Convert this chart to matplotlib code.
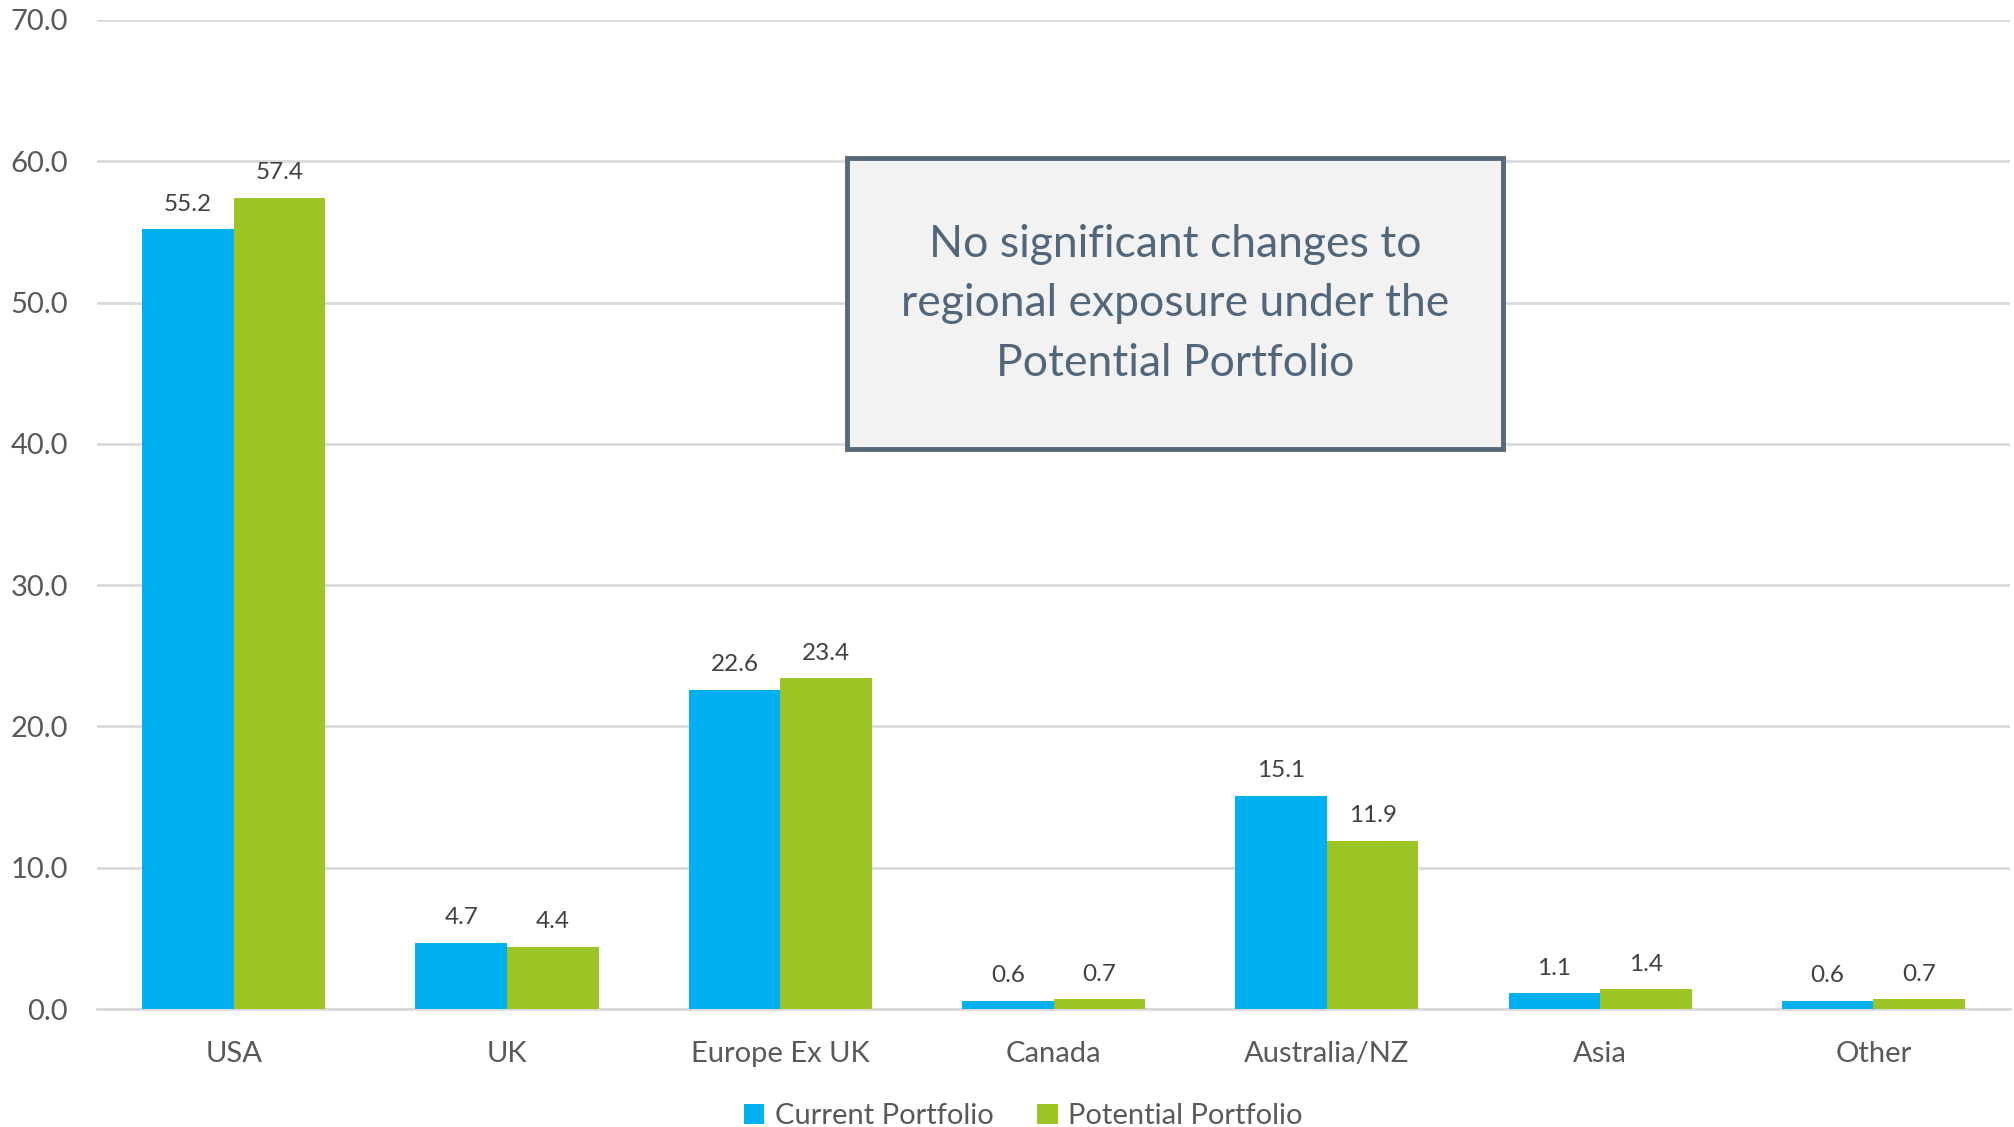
import numpy as np
import matplotlib
matplotlib.use('Agg')
import matplotlib.pyplot as plt
from matplotlib.patches import Rectangle

plt.rcParams['font.family'] = ['Lato', 'DejaVu Sans']

# Data
regions = ['USA', 'UK', 'Europe Ex UK', 'Canada', 'Australia/NZ', 'Asia', 'Other']
current = [55.2, 4.7, 22.6, 0.6, 15.1, 1.1, 0.6]
potential = [57.4, 4.4, 23.4, 0.7, 11.9, 1.4, 0.7]
series_names = ['Current Portfolio', 'Potential Portfolio']
y_ticks = [0, 10, 20, 30, 40, 50, 60, 70]
note = 'No significant changes to\nregional exposure under the\nPotential Portfolio'

blue = '#00B0F0'
green = '#9AC524'
text_grey = '#595959'
grid_grey = '#D9D9D9'

fig = plt.figure(figsize=(20.14, 11.27), dpi=100)
ax = fig.add_axes([0.0482, 0.1047, 0.9498, 0.8776])

x = np.arange(len(regions))
w = 0.335
b1 = ax.bar(x - w / 2, current, w, color=blue, label=series_names[0], zorder=3)
b2 = ax.bar(x + w / 2, potential, w, color=green, label=series_names[1], zorder=3)

# data labels above bars
for bars in (b1, b2):
    for rect in bars:
        h = rect.get_height()
        ax.annotate(f'{h:.1f}', (rect.get_x() + rect.get_width() / 2, h),
                    textcoords='offset points', xytext=(0, 18), ha='center', va='center',
                    fontsize=17.5, color='#404040')

ax.set_xlim(-0.5, len(regions) - 0.5)
ax.set_ylim(0, 70)
ax.set_yticks(y_ticks)
ax.set_yticklabels([f'{t:.1f}' for t in y_ticks])
ax.set_xticks(x)
ax.set_xticklabels(regions)
ax.tick_params(axis='both', length=0, labelsize=21, labelcolor=text_grey)
ax.tick_params(axis='y', pad=21)
ax.tick_params(axis='x', pad=23)

ax.grid(axis='y', color=grid_grey, linewidth=2, zorder=0)
for side in ['top', 'right', 'left']:
    ax.spines[side].set_visible(False)
ax.spines['bottom'].set_color(grid_grey)
ax.spines['bottom'].set_linewidth(2)

# callout box
bx, by, bw, bh = 2.245, 39.6, 2.40, 20.6
box = Rectangle((bx, by), bw, bh, facecolor='#F2F2F2', edgecolor='#56687A',
                linewidth=3.5, zorder=4)
ax.add_patch(box)
ax.text(bx + bw / 2, by + bh / 2, note, ha='center', va='center',
        fontsize=32, color='#52667A', linespacing=1.55, zorder=5)

fig.legend(handles=[b1, b2], labels=series_names, loc='center',
           bbox_to_anchor=(0.508, 0.0098), ncol=2, frameon=False, fontsize=21,
           labelcolor=text_grey, handlelength=0.7, handleheight=0.7,
           handletextpad=0.35, columnspacing=1.5)

fig.savefig('out.png', dpi=100)
